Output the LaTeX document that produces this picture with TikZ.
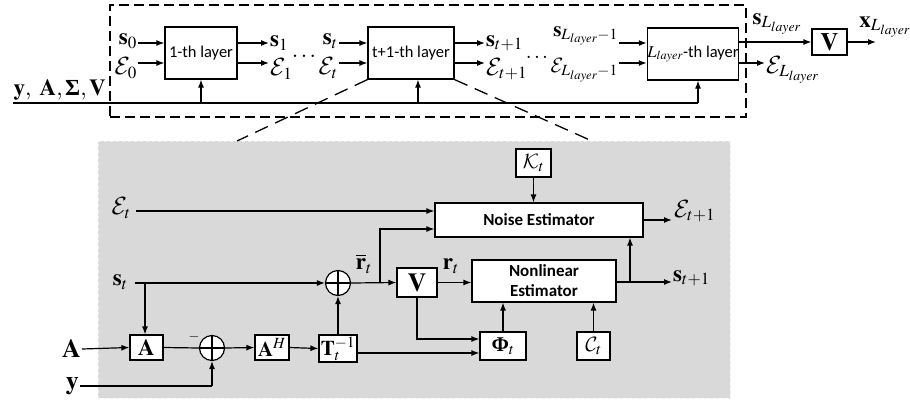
\documentclass[tikz,border=0pt]{standalone}
\usepackage{amsmath}
\usepackage{mathptmx}
\usepackage[no-math]{fontspec}
\setmainfont{Liberation Serif}
\setsansfont{Carlito}
\DeclareMathAlphabet{\mathcm}{OMS}{cmsy}{m}{n}
\newcommand{\bSig}{\mbox{\bfseries Σ}}
\newcommand{\bPhi}{\mbox{\bfseries Φ}}
\usetikzlibrary{arrows.meta,calc}
\definecolor{shadegray}{HTML}{D9D9D9}
\begin{document}
\begin{tikzpicture}[x=1pt,y=-1pt,
  ln/.style={line width=1.2pt},
  arr/.style={ln,-{Latex[length=8pt,width=6pt]}},
  blk/.style={draw,line width=1.2pt,fill=white,inner sep=0pt},
  lbl/.style={inner sep=1pt},
  layertxt/.style={font=\sffamily\fontsize{16.5}{18}\selectfont},
  esttxt/.style={font=\sffamily\bfseries\fontsize{17}{19}\selectfont},
  mth/.style={font=\fontsize{23}{26}\selectfont},
  mths/.style={font=\fontsize{21}{24}\selectfont},
  mthb/.style={font=\fontsize{21}{24}\selectfont},
  zoomdash/.style={line width=1.3pt,dash pattern=on 14pt off 8pt},
  sumnode/.style={circle,draw,line width=1.2pt,fill=white,minimum size=25pt,inner sep=0pt}
]
\useasboundingbox (0,0) rectangle (910,405);

% shaded area
\node[draw=white!88!gray,dashed,fill=shadegray,minimum width=632pt,minimum height=257pt,inner sep=0pt] (shade) at (414,269.5) {};

% top dashed frame
\node[draw,line width=1.2pt,dash pattern=on 10pt off 5pt,minimum width=636pt,minimum height=112pt,inner sep=0pt] (frame) at (428,61) {};

\coordinate (r1) at (0,43);
\coordinate (r2) at (0,63);

% layers
\node[blk,layertxt,minimum width=72pt,minimum height=52pt] (L1) at (201,53) {1-th layer};
\node[blk,layertxt,minimum width=86pt,minimum height=52pt] (Lt) at (411,53) {t+1-th layer};
\node[blk,layertxt,minimum width=90pt,minimum height=52pt] (LL) at (693,54) {$L_{layer}$-th layer};
\node[blk,font=\fontsize{25}{28}\selectfont,minimum width=35pt,minimum height=26pt] (Vt) at (829.5,42) {$\mathbf{V}$};

% top labels
\node[lbl,mth,anchor=east] (s0) at (138,41) {$\mathbf{s}_0$};
\node[lbl,mth,anchor=east] (e0) at (138,68) {$\mathcm{E}_0$};
\node[lbl,mth,anchor=west] (s1) at (269,43) {$\mathbf{s}_1$};
\node[lbl,mth,anchor=west] (e1) at (269,69) {$\mathcm{E}_1$};
\node[lbl,mth] (d1) at (304,56) {$\ldots$};
\node[lbl,mth,anchor=east] (st0) at (339,41) {$\mathbf{s}_t$};
\node[lbl,mth,anchor=east] (et0) at (339,68) {$\mathcm{E}_t$};
\node[lbl,mth,anchor=west] (stp) at (485,43) {$\mathbf{s}_{t+1}$};
\node[lbl,mth,anchor=west] (etp) at (485,69) {$\mathcm{E}_{t+1}$};
\node[lbl,mths] (d2) at (537,57) {$\ldots$};
\node[lbl,mths,anchor=east] (sL1) at (619,36) {$\mathbf{s}_{L_{layer}-1}$};
\node[lbl,mths,anchor=east] (eL1) at (619,70) {$\mathcm{E}_{L_{layer}-1}$};
\node[lbl,mth] (sL) at (777,24) {$\mathbf{s}_{L_{layer}}$};
\node[lbl,mth,anchor=west] (eL) at (765,70) {$\mathcm{E}_{L_{layer}}$};
\node[lbl,mth] (xL) at (885,27) {$\mathbf{x}_{L_{layer}}$};
\coordinate (xo) at (876,42);
\node[lbl,mth,anchor=east] (yin) at (107,90) {$\mathbf{y},\ \mathbf{A},\bSig,\mathbf{V}$};

% top arrows
\draw[arr] (s0.east |- r1) -- (L1.west |- r1);
\draw[arr] (e0.east |- r2) -- (L1.west |- r2);
\draw[arr] (L1.east |- r1) -- (s1.west |- r1);
\draw[arr] (L1.east |- r2) -- (e1.west |- r2);
\draw[arr] (st0.east |- r1) -- (Lt.west |- r1);
\draw[arr] (et0.east |- r2) -- (Lt.west |- r2);
\draw[arr] (Lt.east |- r1) -- (stp.west |- r1);
\draw[arr] (Lt.east |- r2) -- (etp.west |- r2);
\draw[arr] (sL1.east |- r1) -- (LL.west |- r1);
\draw[arr] (eL1.east |- r2) -- (LL.west |- r2);
\draw[arr] (LL.east |- Vt.west) -- (Vt.west);
\draw[arr] (LL.east |- r2) -- (eL.west |- r2);
\draw[arr] (Vt.east) -- (xo);

% bus line
\coordinate (bin) at (13,103);
\coordinate (bend) at ($(LL.south)+(5,0)$);
\draw[ln] (bin) -- (bin -| bend);
\draw[arr] (bin -| bend) -- (bend);
\draw[arr] (bin -| L1.south) -- (L1.south);
\draw[arr] ($(bin -| Lt.south)+(7,0)$) -- ($(Lt.south)+(7,0)$);

% zoom lines
\coordinate (zl) at (237,141);
\coordinate (zr) at (592,141);
\draw[zoomdash] (Lt.south west) -- (zl);
\draw[zoomdash] (Lt.south east) -- (zr);

% lower diagram
\node[blk,esttxt,minimum width=208pt,minimum height=34pt] (NE) at (539,220) {Noise Estimator};
\node[blk,esttxt,minimum width=144pt,minimum height=42pt,align=center,font=\sffamily\bfseries\fontsize{17}{20}\selectfont] (NL) at (544,281) {Nonlinear\\Estimator};
\node[blk,mthb,minimum width=35pt,minimum height=28pt] (K) at (533.5,163) {$\mathcm{K}_t$};
\node[blk,font=\fontsize{26}{28}\selectfont,minimum width=40pt,minimum height=29pt] (V) at (417,282.5) {$\mathbf{V}$};
\node[sumnode] (P1) at (338,283) {};
\node[sumnode] (M) at (212,348) {};
\node[blk,font=\fontsize{23}{26}\selectfont,minimum width=33pt,minimum height=25pt] (Ab) at (146.5,347.5) {$\mathbf{A}$};
\node[blk,mthb,minimum width=34pt,minimum height=25pt] (AH) at (272,347.5) {$\mathbf{A}^{H}$};
\node[blk,mthb,minimum width=38pt,minimum height=27pt] (T) at (338,348.5) {$\mathbf{T}_t^{-1}$};
\node[blk,mthb,minimum width=46pt,minimum height=28pt] (Phi) at (503,346) {$\bPhi_t$};
\node[blk,mthb,minimum width=33pt,minimum height=28pt] (C) at (593.5,346) {$\mathcm{C}_t$};

\draw[ln] (P1.north) -- (P1.south);
\draw[ln] (P1.west) -- (P1.east);
\draw[ln] (M.north) -- (M.south);
\draw[ln] (M.west) -- (M.east);

% lower labels
\node[lbl,mth,anchor=east] (el) at (132,208) {$\mathcm{E}_t$};
\node[lbl,mth,anchor=east] (sl) at (129,282) {$\mathbf{s}_t$};
\node[lbl,font=\fontsize{26}{28}\selectfont,anchor=east] (Al) at (82,349) {$\mathbf{A}$};
\node[lbl,font=\fontsize{26}{28}\selectfont,anchor=east] (yl) at (80,386) {$\mathbf{y}$};
\node[lbl,mth] (rbar) at (364,264) {$\overline{\mathbf{r}}_t$};
\node[lbl,mth] (rl) at (451,266) {$\mathbf{r}_t$};
\node[lbl,mth,anchor=west] (eo) at (673,211) {$\mathcm{E}_{t+1}$};
\node[lbl,mth,anchor=west] (so) at (672,278) {$\mathbf{s}_{t+1}$};
\node[lbl,font=\fontsize{14}{16}\selectfont] (minus) at (194,337) {$-$};

\coordinate (eo1) at (672,220);
\coordinate (so1) at (672,282);
\coordinate (j2) at (630,282);
\coordinate (sb) at (145,283);
\coordinate (rb) at (380,283);
\coordinate (ne2) at ($(NE.west)+(0,9)$);
\coordinate (ne1) at ($(NE.west)+(0,-9)$);
\coordinate (tl) at ($(T.east)+(0,4.5)$);
\coordinate (ph1) at ($(Phi.west)+(0,-7)$);

% lower connectors
\draw[arr] ($(el.east)+(4,3)$) -- (ne1);
\draw[arr] (K.south) -- (K.south |- NE.north);
\draw[arr] (NE.east) -- (eo1);
\draw[arr] (NL.east |- so1) -- (so1);
\draw[arr] (j2) -- (j2 |- NE.south);
\draw[arr] ($(sl.east)+(6,1)$) -- (P1.west);
\draw[arr] (sb) -- (sb |- Ab.north);
\draw[arr] (Al.east) -- (Ab.west);
\draw[ln] (Ab.east) -- (M.west);
\draw[ln] (yl.east) -- (yl.east -| M.south);
\draw[arr] (yl.east -| M.south) -- (M.south);
\draw[arr] (M.east) -- (AH.west);
\draw[arr] (AH.east) -- (T.west);
\draw[arr] (T.north) -- (P1.south);
\draw[arr] (P1.east) -- (V.west);
\draw[arr] (rb) |- (ne2);
\draw[arr] (V.east) -- (V.east -| NL.west);
\draw[arr] (V.south) |- (ph1);
\draw[arr] (tl) -- (tl -| Phi.west);
\draw[arr] (Phi.north) -- (Phi.north |- NL.south);
\draw[arr] (C.north) -- (C.north |- NL.south);
\end{tikzpicture}
\end{document}
